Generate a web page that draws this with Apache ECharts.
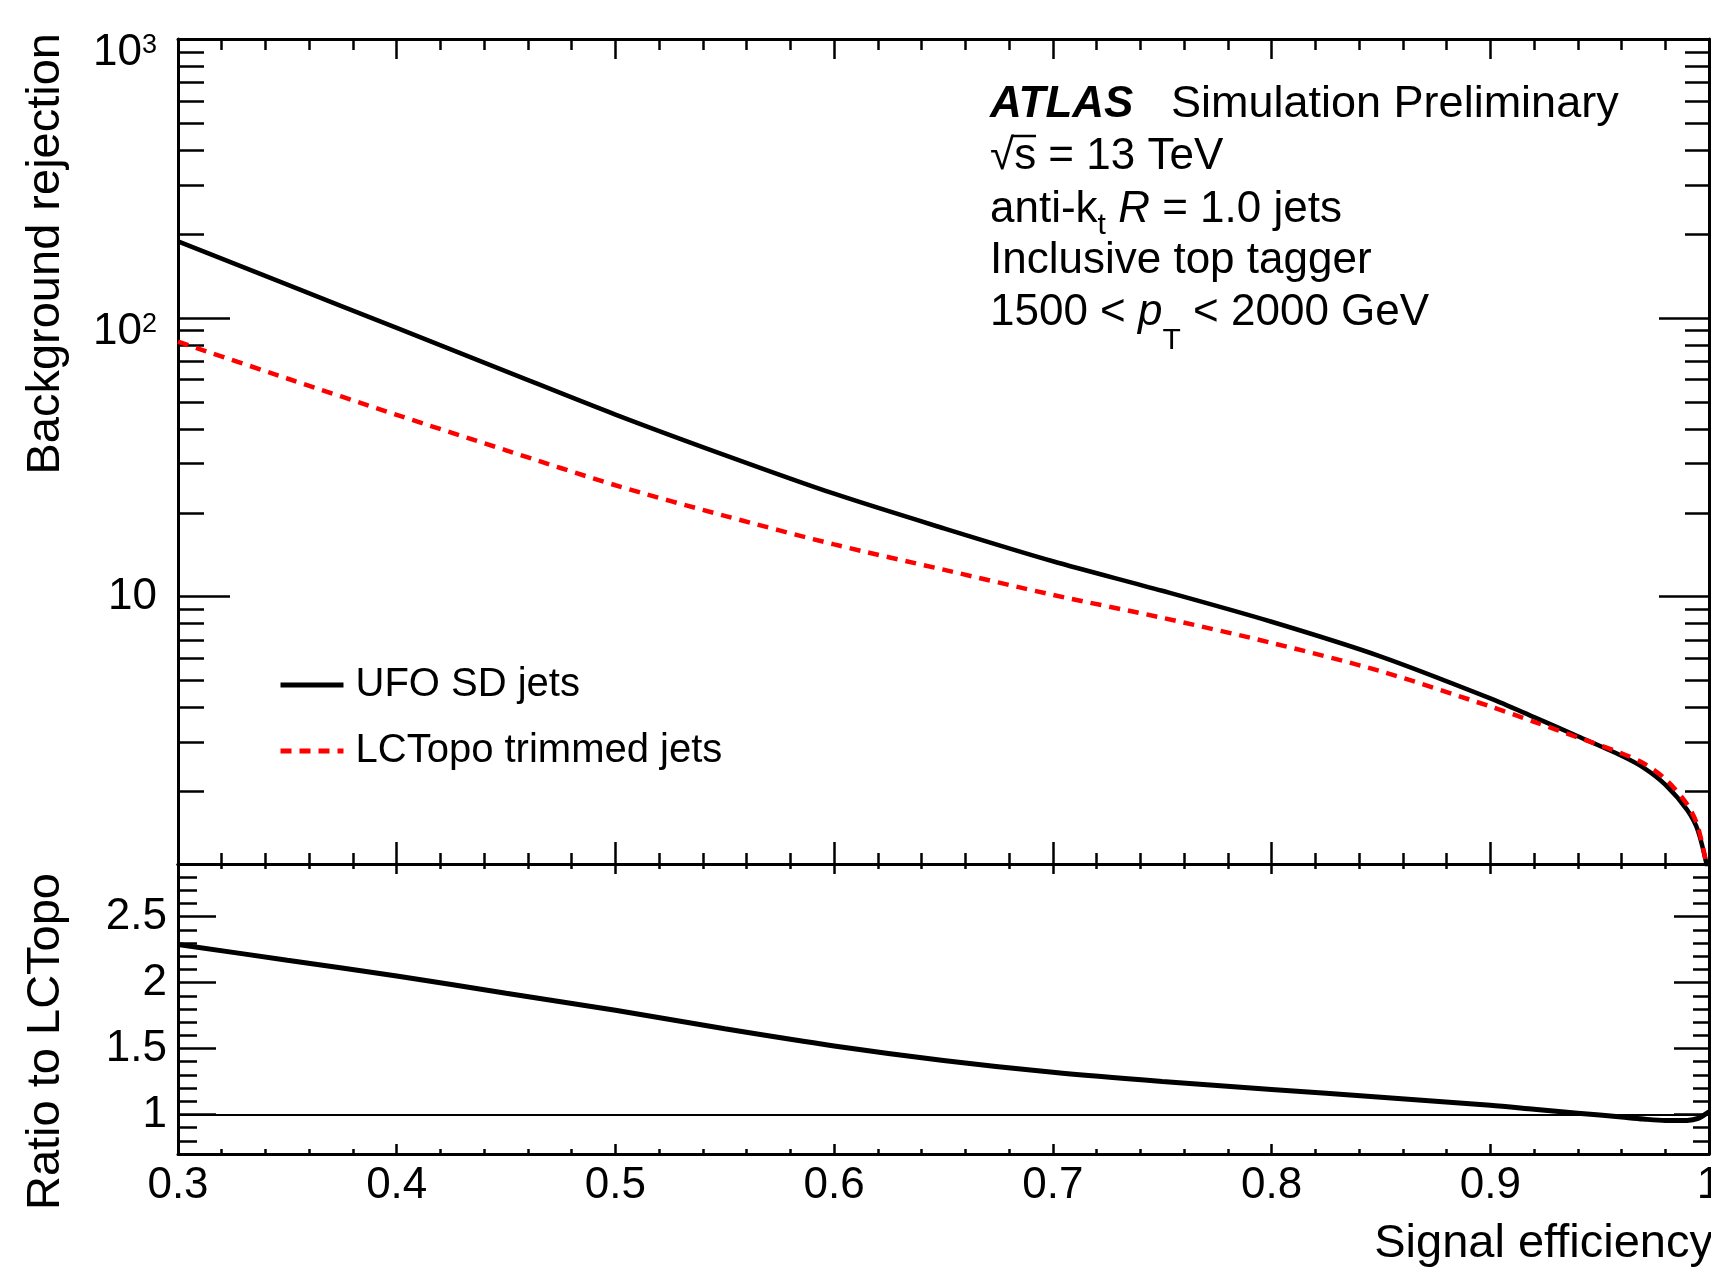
<!DOCTYPE html>
<html>
<head>
<meta charset="utf-8">
<script src="https://cdn.jsdelivr.net/npm/echarts@6/dist/echarts.min.js"></script>
<style>
html, body { margin: 0; padding: 0; background: #fff; }
#chart { width: 1711px; height: 1272px; }
</style>
</head>
<body>
<div id="chart"></div>
<script>
// values
const efficiency = [0.30, 0.35, 0.40, 0.45, 0.50, 0.55, 0.60, 0.65, 0.70, 0.75, 0.80, 0.85, 0.90, 0.92, 0.94, 0.96, 0.97, 0.98, 0.99, 0.995, 1.00];
const ufoRejection = [188, 131.5, 92, 64.3, 45, 32.2, 23.4, 17.6, 13.4, 10.5, 8.13, 6.10, 4.32, 3.70, 3.16, 2.69, 2.44, 2.12, 1.72, 1.445, 1.0];
const lcTopoRejection = [82.1, 60.6, 44.9, 33.5, 25.1, 19.5, 15.4, 12.5, 10.15, 8.4, 6.83, 5.40, 4.04, 3.56, 3.13, 2.745, 2.53, 2.22, 1.80, 1.49, 0.98];
const ratioToLCTopo = [2.29, 2.17, 2.05, 1.92, 1.79, 1.65, 1.52, 1.41, 1.32, 1.25, 1.19, 1.13, 1.07, 1.04, 1.01, 0.98, 0.965, 0.955, 0.955, 0.97, 1.02];

const logMajorTicks = [10, 100, 1000];
const logMinorTicks = [2, 3, 4, 5, 6, 7, 8, 9, 20, 30, 40, 50, 60, 70, 80, 90, 200, 300, 400, 500, 600, 700, 800, 900];
const ratioMajorTicks = [1, 1.5, 2, 2.5];
const ratioMinorTicks = [0.8, 0.9, 1.0, 1.1, 1.2, 1.3, 1.4, 1.5, 1.6, 1.7, 1.8, 1.9, 2.0, 2.1, 2.2, 2.3, 2.4, 2.5, 2.6, 2.7, 2.8];

const FONT = '"Liberation Sans", Arial, Helvetica, sans-serif';

const chart = echarts.init(document.getElementById('chart'));

function pts(ys) {
  return efficiency.map((e, i) => [e, ys[i]]);
}

function xAxisOf(grid, pos, major, minor, labels) {
  return {
    type: 'value', gridIndex: grid, position: pos,
    min: 0.3, max: 1.0, interval: 0.1,
    axisLine: { show: true, onZero: false, lineStyle: { color: '#000', width: 3 } },
    axisTick: { inside: true, length: major, lineStyle: { color: '#000', width: 2.5 } },
    minorTick: { show: true, splitNumber: 5, length: minor, lineStyle: { color: '#000', width: 2.5 } },
    axisLabel: labels ? {
      show: true, margin: 10, color: '#000', fontSize: 44, fontFamily: FONT,
      formatter: v => String(Math.round(v * 10) / 10)
    } : { show: false },
    splitLine: { show: false }, minorSplitLine: { show: false }
  };
}

function logAxis(pos, ticks, len, line, labels) {
  return {
    type: 'log', gridIndex: 0, position: pos, min: 1.1, max: 1000,
    axisLine: { show: line, onZero: false, lineStyle: { color: '#000', width: 3 } },
    axisTick: { inside: true, length: len, customValues: ticks, lineStyle: { color: '#000', width: 2.5 } },
    axisLabel: labels ? {
      show: true, customValues: ticks, margin: 21,
      formatter: function (v) {
        const e = Math.round(Math.log10(v));
        return e === 1 ? '{p|10}' : '{b|10}{s|' + e + '}';
      },
      rich: {
        p: { fontSize: 44, lineHeight: 44, fontFamily: FONT, color: '#000' },
        b: { fontSize: 44, lineHeight: 44, fontFamily: FONT, color: '#000', padding: [14, 0, 0, 0], verticalAlign: 'top' },
        s: { fontSize: 27, lineHeight: 27, fontFamily: FONT, color: '#000', padding: [15, 0, 0, 0], verticalAlign: 'top' }
      }
    } : { show: false },
    splitLine: { show: false }
  };
}

function ratioAxis(pos, ticks, len, line, labels) {
  return {
    type: 'value', gridIndex: 1, position: pos, min: 0.7, max: 2.9,
    axisLine: { show: line, onZero: false, lineStyle: { color: '#000', width: 3 } },
    axisTick: { inside: true, length: len, customValues: ticks, lineStyle: { color: '#000', width: 2.5 } },
    axisLabel: labels ? {
      show: true, customValues: ticks, margin: 11, color: '#000', fontSize: 44, fontFamily: FONT
    } : { show: false },
    splitLine: { show: false }
  };
}

const option = {
  backgroundColor: '#fff',
  animation: false,
  grid: [
    { left: 178, top: 39, right: 2, height: 825, outerBoundsMode: 'none', containLabel: false },
    { left: 178, top: 864, right: 2, height: 290, outerBoundsMode: 'none', containLabel: false }
  ],
  xAxis: [
    xAxisOf(0, 'bottom', 22, 11, false),
    xAxisOf(0, 'top', 20, 11, false),
    xAxisOf(1, 'top', 10, 5, false),
    xAxisOf(1, 'bottom', 10, 5, true)
  ],
  yAxis: [
    logAxis('left', logMajorTicks, 52, true, true),
    logAxis('left', logMinorTicks, 26, false, false),
    logAxis('right', logMajorTicks, 50, true, false),
    logAxis('right', logMinorTicks, 24, false, false),
    ratioAxis('left', ratioMajorTicks, 38, true, true),
    ratioAxis('left', ratioMinorTicks, 19, false, false),
    ratioAxis('right', ratioMajorTicks, 35, true, false),
    ratioAxis('right', ratioMinorTicks, 16, false, false)
  ],
  legend: {
    data: ['UFO SD jets', 'LCTopo trimmed jets'],
    orient: 'vertical',
    left: 278, top: 665, padding: 0,
    itemWidth: 63, itemHeight: 40, itemGap: 26,
    itemStyle: { opacity: 0 },
    lineStyle: { width: 5 },
    textStyle: { color: '#000', fontSize: 40, lineHeight: 40, fontFamily: FONT, padding: [0, 0, 0, 7] }
  },
  series: [
    {
      name: 'UFO SD jets', type: 'line', xAxisIndex: 0, yAxisIndex: 0,
      data: pts(ufoRejection), symbol: 'none', smooth: 0.3, z: 3,
      itemStyle: { color: '#000' },
      lineStyle: { color: '#000', width: 4.5 }
    },
    {
      name: 'LCTopo trimmed jets', type: 'line', xAxisIndex: 0, yAxisIndex: 0,
      data: pts(lcTopoRejection), symbol: 'none', smooth: 0.3, z: 4,
      itemStyle: { color: '#ff0000' },
      lineStyle: { color: '#ff0000', width: 4.5, type: [11, 8] }
    },
    {
      name: 'Ratio to LCTopo', type: 'line', xAxisIndex: 3, yAxisIndex: 4,
      data: pts(ratioToLCTopo), symbol: 'none', smooth: 0.3, z: 3,
      itemStyle: { color: '#000' },
      lineStyle: { color: '#000', width: 5 },
      markLine: {
        silent: true, symbol: 'none', label: { show: false },
        lineStyle: { color: '#000', width: 2, type: 'solid' },
        data: [{ yAxis: 1 }]
      }
    }
  ],
  graphic: [
    { type: 'text', x: 46, y: 33, rotation: Math.PI / 2,
      style: { text: 'Background rejection', fontSize: 47, fontFamily: FONT, fill: '#000', align: 'right', verticalAlign: 'middle' } },
    { type: 'text', x: 46, y: 873, rotation: Math.PI / 2,
      style: { text: 'Ratio to LCTopo', fontSize: 47, fontFamily: FONT, fill: '#000', align: 'right', verticalAlign: 'middle' } },
    { type: 'text', x: 1713, y: 1244,
      style: { text: 'Signal efficiency', fontSize: 47, fontFamily: FONT, fill: '#000', align: 'right', verticalAlign: 'middle' } },

    { type: 'text', x: 990, y: 83,
      style: { text: 'ATLAS', fontSize: 44, lineHeight: 44, fontWeight: 'bold', fontStyle: 'italic', fontFamily: FONT, fill: '#000', align: 'left', verticalAlign: 'top' } },
    { type: 'text', x: 1171, y: 82,
      style: { text: 'Simulation Preliminary', fontSize: 45, lineHeight: 45, fontFamily: FONT, fill: '#000', align: 'left', verticalAlign: 'top' } },
    { type: 'text', x: 990, y: 135,
      style: { text: '\u221As = 13 TeV', fontSize: 44, lineHeight: 44, fontFamily: FONT, fill: '#000', align: 'left', verticalAlign: 'top' } },
    { type: 'line', shape: { x1: 1012, y1: 136, x2: 1036, y2: 136 }, style: { stroke: '#000', lineWidth: 2.5 } },
    { type: 'text', x: 990, y: 188,
      style: {
        text: '{n|anti-k}{t|t}{n| }{i|R}{n| = 1.0 jets}', fontFamily: FONT, fill: '#000', align: 'left', verticalAlign: 'top',
        rich: {
          n: { fontSize: 44, lineHeight: 44, fontFamily: FONT, verticalAlign: 'top' },
          i: { fontSize: 44, lineHeight: 44, fontFamily: FONT, fontStyle: 'italic', verticalAlign: 'top' },
          t: { fontSize: 30, lineHeight: 30, fontFamily: FONT, padding: [23, 0, 0, 0], verticalAlign: 'top' }
        }
      } },
    { type: 'text', x: 990, y: 239,
      style: { text: 'Inclusive top tagger', fontSize: 44, lineHeight: 44, fontFamily: FONT, fill: '#000', align: 'left', verticalAlign: 'top' } },
    { type: 'text', x: 990, y: 291,
      style: {
        text: '{n|1500 < }{i|p}{T|T}{n| < 2000 GeV}', fontFamily: FONT, fill: '#000', align: 'left', verticalAlign: 'top',
        rich: {
          n: { fontSize: 44, lineHeight: 44, fontFamily: FONT, verticalAlign: 'top' },
          i: { fontSize: 44, lineHeight: 44, fontFamily: FONT, fontStyle: 'italic', verticalAlign: 'top' },
          T: { fontSize: 30, lineHeight: 30, fontFamily: FONT, padding: [35, 0, 0, 0], verticalAlign: 'top' }
        }
      } }
  ]
};

chart.setOption(option);
window.addEventListener('resize', () => chart.resize());
</script>
</body>
</html>
